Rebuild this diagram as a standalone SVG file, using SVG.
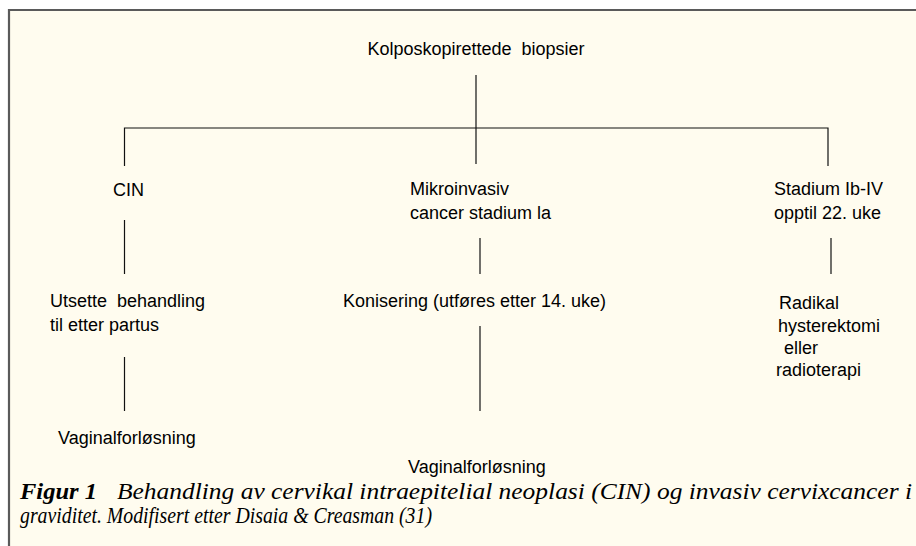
<svg xmlns="http://www.w3.org/2000/svg" width="916" height="546" viewBox="0 0 916 546">
<style>
.t{font-family:"Liberation Sans",Arial,sans-serif;font-size:18px;fill:#000}
.c{font-family:"Liberation Serif","Times New Roman",serif;font-size:23px;font-style:italic;fill:#000}
.b{font-weight:bold}
.ln{stroke:#111;stroke-width:1.2;fill:none}
</style>
<rect x="0" y="0" width="916" height="546" fill="#ffffff"/>
<rect x="9" y="10" width="907" height="536" fill="#fffcef"/>
<path d="M9,546 V10 H916" fill="none" stroke="#5a5a5a" stroke-width="2.2"/>
<g id="connectors">
<path class="ln" d="M476,75 V164"/>
<path class="ln" d="M124.5,166 V128 H828 V166"/>
<path class="ln" d="M124.5,220 V274"/>
<path class="ln" d="M480,238 V274"/>
<path class="ln" d="M831,238 V274"/>
<path class="ln" d="M124.5,357 V411"/>
<path class="ln" d="M480,326 V411"/>
</g>
<g id="root"><text class="t" x="476" y="55" text-anchor="middle" xml:space="preserve">Kolposkopirettede  biopsier</text></g>
<g id="cin"><text class="t" x="113" y="196">CIN</text></g>
<g id="mikro"><text class="t" x="410" y="195">Mikroinvasiv</text><text class="t" x="410" y="219">cancer stadium la</text></g>
<g id="stadium"><text class="t" x="774" y="195">Stadium Ib-IV</text><text class="t" x="774" y="219">opptil 22. uke</text></g>
<g id="utsette"><text class="t" x="50" y="307" xml:space="preserve">Utsette  behandling</text><text class="t" x="50" y="331">til etter partus</text></g>
<g id="konisering"><text class="t" x="343" y="307">Konisering (utføres etter 14. uke)</text></g>
<g id="radikal"><text class="t" x="779" y="309">Radikal</text><text class="t" x="778" y="332">hysterektomi</text><text class="t" x="779" y="354" xml:space="preserve"> eller</text><text class="t" x="776" y="376">radioterapi</text></g>
<g id="vag1"><text class="t" x="58" y="444">Vaginalforløsning</text></g>
<g id="vag2"><text class="t" x="408" y="473">Vaginalforløsning</text></g>
<g id="caption">
<text class="c b" x="20" y="499" textLength="77" lengthAdjust="spacingAndGlyphs">Figur 1</text>
<text class="c" x="117" y="499" textLength="795" lengthAdjust="spacingAndGlyphs">Behandling av cervikal intraepitelial neoplasi (CIN) og invasiv cervixcancer i</text>
<text class="c" x="20" y="523" textLength="412" lengthAdjust="spacingAndGlyphs">graviditet. Modifisert etter Disaia &amp; Creasman (31)</text>
</g>
</svg>
